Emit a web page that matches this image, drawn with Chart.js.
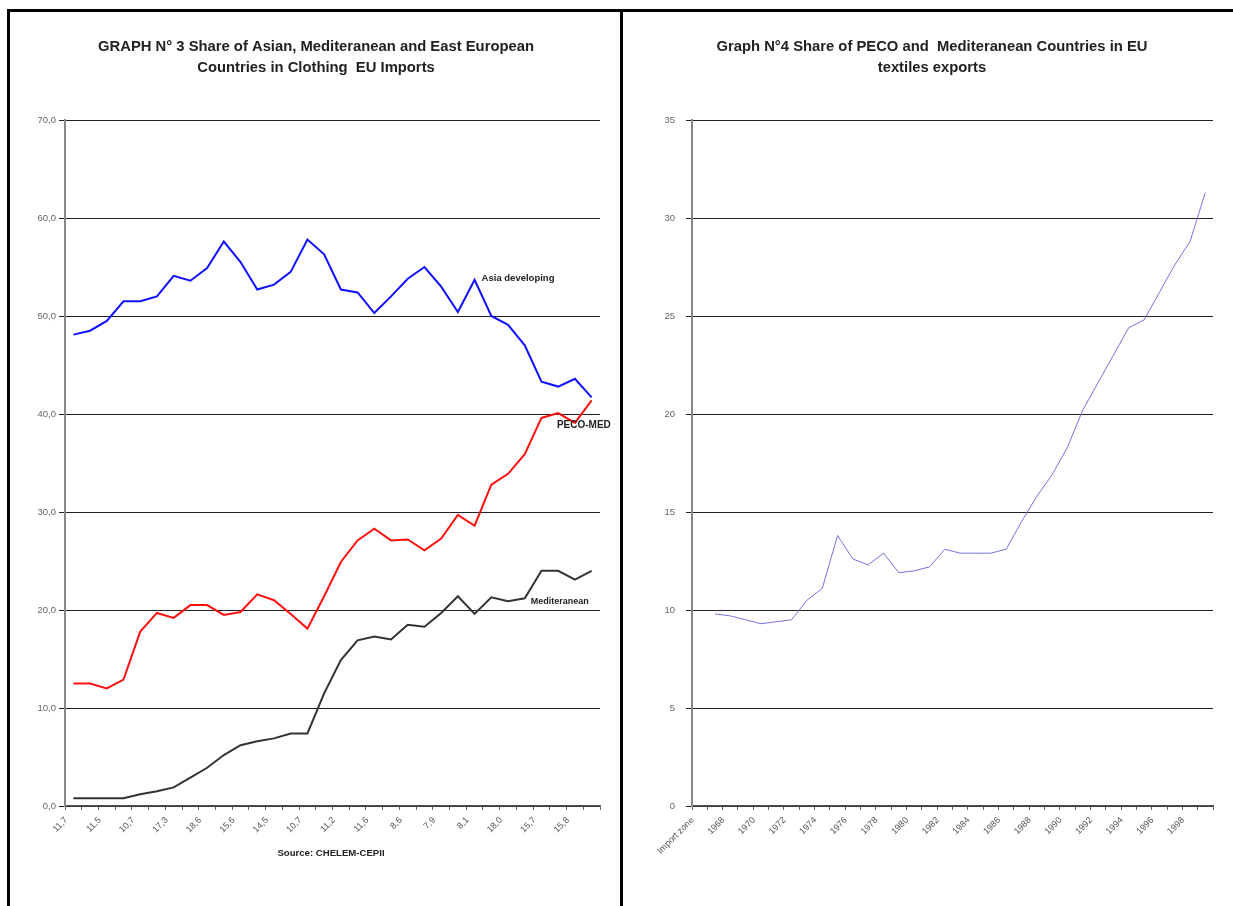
<!DOCTYPE html>
<html>
<head>
<meta charset="utf-8">
<title>EU clothing imports and textiles exports</title>
<script src="https://cdn.jsdelivr.net/npm/chart.js@4.4.1/dist/chart.umd.min.js"></script>
<style>
  html, body { margin: 0; padding: 0; background: #fff; }
  body { width: 1233px; height: 906px; position: relative; overflow: hidden; }
  .frame { position: absolute; background: #000; }
  canvas { position: absolute; }
</style>
</head>
<body>
<div class="frame" style="left:7px; top:9px; width:1226px; height:3px;"></div>
<div class="frame" style="left:7px; top:9px; width:3px; height:897px;"></div>
<div class="frame" style="left:620px; top:9px; width:3px; height:897px;"></div>
<canvas id="clothing" width="610" height="894" style="left:10px; top:12px;"></canvas>
<canvas id="textiles" width="610" height="894" style="left:623px; top:12px;"></canvas>
<script>
// ---- Graph 3: shares in EU clothing imports (%) ----
const clothingTickLabels = ['11,7', '11,5', '10,7', '17,3', '18,6', '15,6', '14,5', '10,7',
                            '11,2', '11,6', '8,6', '7,9', '8,1', '18,0', '15,7', '15,8'];
const asiaDeveloping = [48.1, 48.5, 49.5, 51.5, 51.5, 52.0, 54.1, 53.6, 54.9, 57.6, 55.5, 52.7,
                        53.2, 54.5, 57.8, 56.3, 52.7, 52.4, 50.3, 52.0, 53.8, 55.0, 53.0, 50.4,
                        53.7, 50.0, 49.1, 47.0, 43.3, 42.8, 43.6, 41.7];
const pecoMed = [12.5, 12.5, 12.0, 12.9, 17.8, 19.7, 19.2, 20.5, 20.5, 19.5, 19.8, 21.6,
                 21.0, 19.6, 18.1, 21.4, 24.9, 27.1, 28.3, 27.1, 27.2, 26.1, 27.3, 29.7,
                 28.6, 32.8, 33.9, 35.9, 39.6, 40.1, 39.1, 41.4];
const mediteranean = [0.8, 0.8, 0.8, 0.8, 1.2, 1.5, 1.9, 2.9, 3.9, 5.2, 6.2, 6.6,
                      6.9, 7.4, 7.4, 11.5, 14.9, 16.9, 17.3, 17.0, 18.5, 18.3, 19.7, 21.4,
                      19.6, 21.3, 20.9, 21.2, 24.0, 24.0, 23.1, 24.0];
// one category per observation, a label on every other one
const clothingCategories = asiaDeveloping.map((v, i) => i % 2 === 0 ? clothingTickLabels[i / 2] : '');

// ---- Graph 4: share of PECO and Mediterranean countries in EU textiles exports (%) ----
const textileCategories = ['Import zone', '1967', '1968', '1969', '1970', '1971', '1972', '1973',
                           '1974', '1975', '1976', '1977', '1978', '1979', '1980', '1981', '1982',
                           '1983', '1984', '1985', '1986', '1987', '1988', '1989', '1990', '1991',
                           '1992', '1993', '1994', '1995', '1996', '1997', '1998', '1999'];
const pecoMedTextiles = [null, 9.8, 9.7, 9.5, 9.3, 9.4, 9.5, 10.5, 11.1, 13.8, 12.6, 12.3, 12.9,
                         11.9, 12.0, 12.2, 13.1, 12.9, 12.9, 12.9, 13.1, 14.5, 15.8, 16.9, 18.3,
                         20.2, 21.6, 23.0, 24.4, 24.8, 26.2, 27.6, 28.8, 31.3];

const FONT = '"Liberation Sans", Arial, sans-serif';
Chart.defaults.font.family = FONT;
Chart.defaults.animation = false;

// free text on a panel: titles, series names, source line
function panelText(items) {
  return {
    id: 'panelText',
    afterDatasetsDraw(chart) {
      const ctx = chart.ctx;
      const xs = chart.scales.x, ys = chart.scales.y;
      ctx.save();
      ctx.textBaseline = 'middle';
      for (const t of items) {
        ctx.font = (t.weight || 'bold') + ' ' + t.size + 'px ' + FONT;
        ctx.fillStyle = t.color || '#222';
        ctx.textAlign = t.align || 'center';
        const px = t.at ? xs.getPixelForValue(t.at[0]) + (t.dx || 0) : t.x;
        const py = t.at ? ys.getPixelForValue(t.at[1]) : t.y;
        ctx.fillText(t.text, px, py);
      }
      ctx.restore();
    }
  };
}

function axisOptions(yMax, yStep, yFormat, yWidth, yPad) {
  return {
    x: {
      offset: true,
      grid: { offset: true, drawOnChartArea: false, drawTicks: true, tickLength: 4, color: '#666' },
      border: { color: '#555', width: 1.5 },
      ticks: {
        autoSkip: false, minRotation: 45, maxRotation: 45, padding: 5, labelOffset: -7,
        color: '#555', font: { size: 9 },
        callback(v, i) { return i % 2 === 0 ? this.getLabelForValue(v) : ''; }
      },
      afterFit(s) { s.height = 100; }
    },
    y: {
      min: 0, max: yMax,
      grid: { color: '#222', lineWidth: 1, tickLength: 6 },
      border: { color: '#888', width: 2 },
      ticks: { stepSize: yStep, padding: yPad, color: '#666', font: { size: 9.5 }, callback: yFormat },
      afterFit(s) { s.width = yWidth; }
    }
  };
}

new Chart(document.getElementById('clothing'), {
  type: 'line',
  data: {
    labels: clothingCategories,
    datasets: [
      { label: 'Asia developing', data: asiaDeveloping, borderColor: '#1010ff', borderWidth: 2, pointRadius: 0, tension: 0 },
      { label: 'PECO-MED', data: pecoMed, borderColor: '#ff1010', borderWidth: 2, pointRadius: 0, tension: 0 },
      { label: 'Mediteranean', data: mediteranean, borderColor: '#333333', borderWidth: 2, pointRadius: 0, tension: 0 }
    ]
  },
  options: {
    responsive: false,
    layout: { padding: { top: 108, right: 20, left: 0, bottom: 0 } },
    plugins: { legend: { display: false }, tooltip: { enabled: false } },
    scales: axisOptions(70, 10, v => v.toFixed(1).replace('.', ','), 55, 3)
  },
  plugins: [panelText([
    { text: 'GRAPH N° 3 Share of Asian, Mediteranean and East European', x: 306, y: 35, size: 14.8 },
    { text: 'Countries in Clothing  EU Imports', x: 306, y: 56, size: 14.8 },
    { text: 'Asia developing', at: [24, 53.8], dx: 7, align: 'left', size: 9.5 },
    { text: 'PECO-MED', at: [30, 38.9], dx: -18, align: 'left', size: 10 },
    { text: 'Mediteranean', at: [27, 20.9], dx: 6, align: 'left', size: 9 },
    { text: 'Source: CHELEM-CEPII', x: 321, y: 841, size: 9.6 }
  ])]
});

new Chart(document.getElementById('textiles'), {
  type: 'line',
  data: {
    labels: textileCategories,
    datasets: [
      { label: 'PECO and Mediterranean countries', data: pecoMedTextiles, borderColor: '#7474e0', borderWidth: 1, pointRadius: 0, tension: 0 }
    ]
  },
  options: {
    responsive: false,
    layout: { padding: { top: 108, right: 20, left: 0, bottom: 0 } },
    plugins: { legend: { display: false }, tooltip: { enabled: false } },
    scales: axisOptions(35, 5, v => String(v), 69, 11)
  },
  plugins: [panelText([
    { text: 'Graph N°4 Share of PECO and  Mediteranean Countries in EU', x: 309, y: 35, size: 14.8 },
    { text: 'textiles exports', x: 309, y: 56, size: 14.8 }
  ])]
});
</script>
</body>
</html>
